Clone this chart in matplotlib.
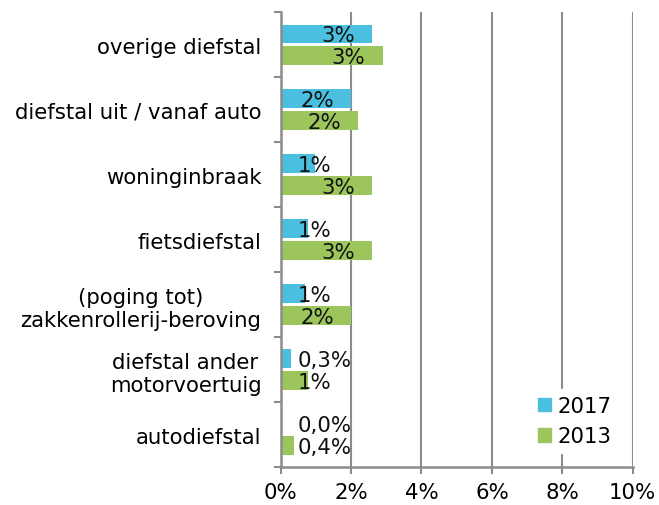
import numpy as np
import matplotlib
matplotlib.use('Agg')
from matplotlib import pyplot as plt
from matplotlib.patches import Patch

# categorieën van boven naar beneden
categorieen = ['overige diefstal', 'diefstal uit / vanaf auto', 'woninginbraak',
               'fietsdiefstal', '(poging tot)\nzakkenrollerij-beroving',
               'diefstal ander\nmotorvoertuig', 'autodiefstal']
# slachtofferschap in procenten
waarden_2017 = [2.6, 2.0, 0.97, 0.77, 0.69, 0.29, 0.0]
waarden_2013 = [2.9, 2.2, 2.6, 2.6, 2.0, 0.77, 0.38]
x_ticks = [0, 2, 4, 6, 8, 10]

kleur_2017 = '#4bbfdf'
kleur_2013 = '#9cc65c'
grijs = '#8c8c8c'
fs = 15.3


def label_tekst(v):
    # kleine percentages met een decimaal, Nederlandse komma
    if v < 0.5:
        return '{:.1f}%'.format(v).replace('.', ',')
    return '{:.0f}%'.format(v)


plt.rcParams['font.family'] = ['DejaVu Sans']
fig = plt.figure(figsize=(6.59, 5.06), dpi=100)
ax = fig.add_axes([0.426, 0.075, 0.534, 0.899])

y = np.arange(len(categorieen))
h = 0.29
ax.barh(y - 0.165, waarden_2017, height=h, color=kleur_2017, zorder=2)
ax.barh(y + 0.165, waarden_2013, height=h, color=kleur_2013, zorder=2)

# datalabels: binnen het uiteinde, of naast de as als de balk te kort is
for reeks, offset in [(waarden_2017, -0.165), (waarden_2013, 0.165)]:
    for yi, v in zip(y, reeks):
        if v > 1.5:
            ax.annotate(label_tekst(v), (v, yi + offset), xytext=(-12.5, -1),
                        textcoords='offset points', ha='right', va='center',
                        fontsize=fs, color='#111111', zorder=3)
        else:
            ax.annotate(label_tekst(v), (0, yi + offset), xytext=(12, -1),
                        textcoords='offset points', ha='left', va='center',
                        fontsize=fs, color='#111111', zorder=3)

ax.set_xlim(0, 10)
ax.set_ylim(len(categorieen) - 0.5, -0.5)
ax.set_xticks(x_ticks)
ax.set_xticklabels(['{}%'.format(t) for t in x_ticks], fontsize=fs)
ax.set_yticks(y)
ax.set_yticklabels(categorieen, fontsize=fs, multialignment='center')
ax.set_yticks(np.arange(len(categorieen) + 1) - 0.5, minor=True)

ax.tick_params(axis='y', which='major', length=0, pad=14)
ax.tick_params(axis='y', which='minor', length=5, width=1.5, color=grijs)
ax.tick_params(axis='x', which='major', length=5, width=1.5, color=grijs, pad=6)

ax.grid(axis='x', color=grijs, linewidth=1.5, zorder=0)
ax.set_axisbelow(True)
for s in ['top', 'right']:
    ax.spines[s].set_visible(False)
for s in ['left', 'bottom']:
    ax.spines[s].set_color(grijs)
    ax.spines[s].set_linewidth(1.8)

handles = [Patch(color=kleur_2017, label='2017'), Patch(color=kleur_2013, label='2013')]
leg = ax.legend(handles=handles, loc='lower right', bbox_to_anchor=(0.99, 0.008),
                fontsize=fs, frameon=True, fancybox=False, edgecolor='white',
                facecolor='white', framealpha=1, handlelength=0.6, handleheight=0.6,
                handletextpad=0.35, labelspacing=0.5, borderpad=0.3)

plt.savefig('out.png', dpi=100)
